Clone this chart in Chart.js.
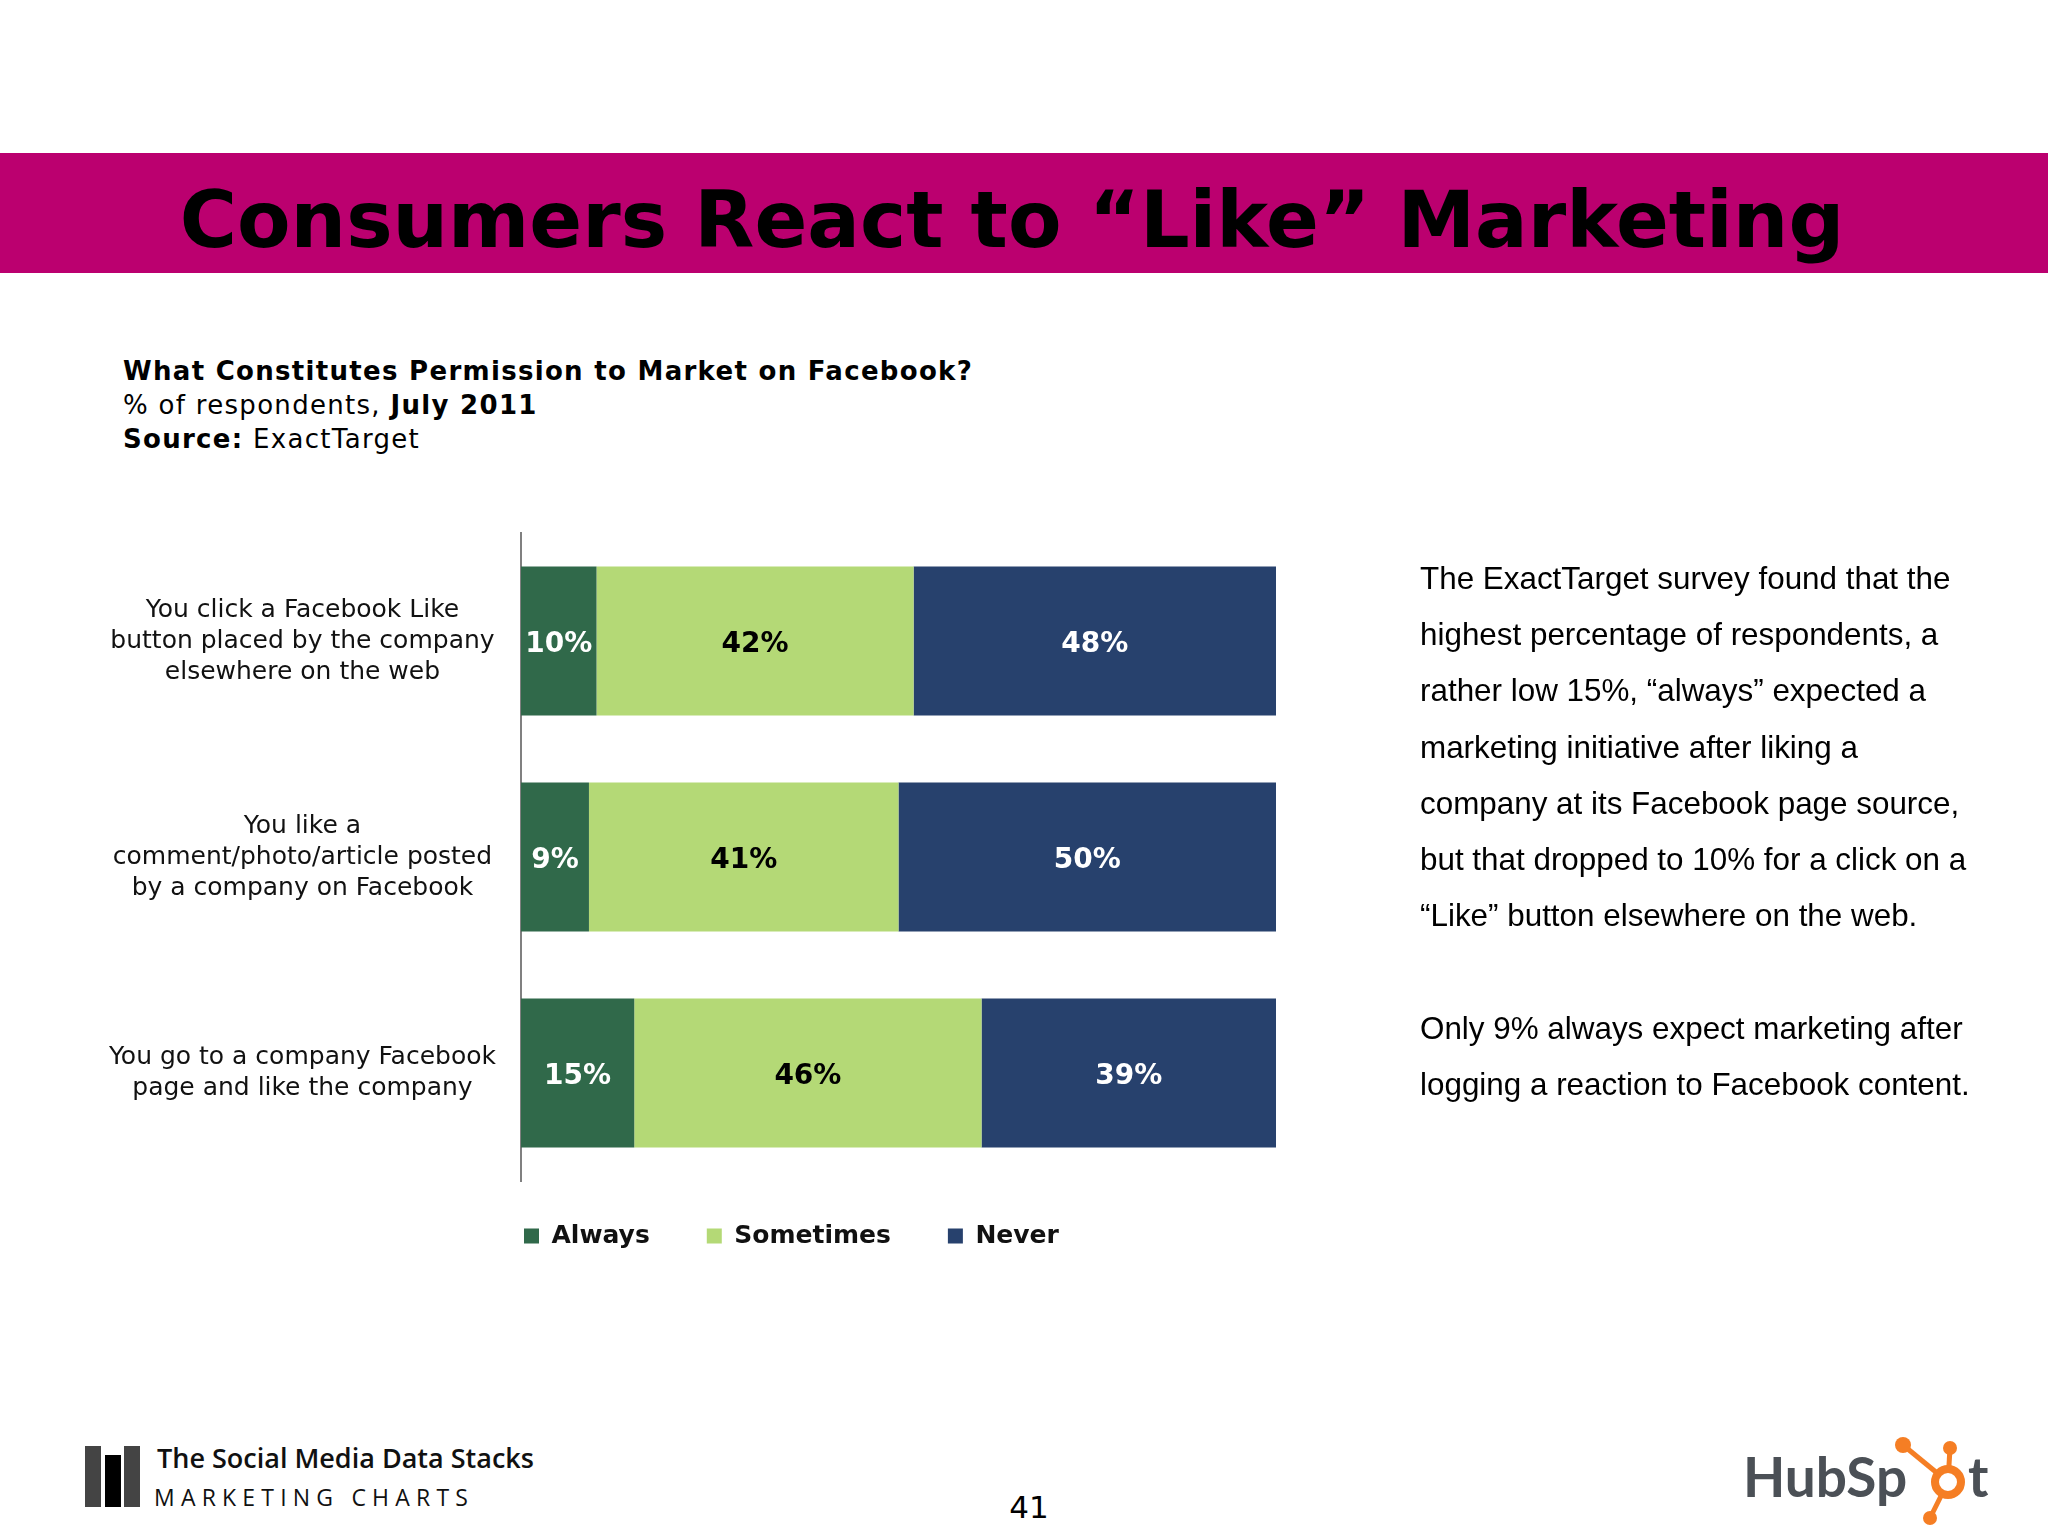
<!DOCTYPE html>
<html>
<head>
<meta charset="utf-8">
<script src="https://cdn.jsdelivr.net/npm/chart.js@4.4.0/dist/chart.umd.min.js"></script>
<style>
  html, body { margin: 0; padding: 0; background: #fff; }
  body { width: 2048px; height: 1536px; position: relative; overflow: hidden; }
  .abs { position: absolute; white-space: nowrap; }
  #band { left: 0; top: 153px; width: 2048px; height: 120px; background: #bb006f; }
  #title { left: 0; width: 2024px; top: 181px; text-align: center; font: bold 78px/78px "DejaVu Sans"; color: #000; }
  #sub { left: 123px; top: 354px; font: 26px/34px "DejaVu Sans"; letter-spacing: 1.3px; color: #000; }
  #note { left: 1420px; top: 551px; font: 31.4px/56.2px "Liberation Sans", Arial; color: #000; }
  #chartBox { left: 0; top: 500px; width: 1600px; height: 800px; }
  #stacks { left: 157px; top: 1444px; font: 600 27px/27px "Open Sans"; color: #111; }
  #mc { left: 154px; top: 1486px; font: 400 23px/23px "Open Sans"; letter-spacing: 6.2px; color: #111; }
  #page { left: 979px; width: 100px; top: 1492px; text-align: center; font: 31px/31px "DejaVu Sans"; color: #000; }
</style>
</head>
<body>
<div id="band" class="abs"></div>
<div id="title" class="abs">Consumers React to “Like” Marketing</div>
<div id="sub" class="abs"><b>What Constitutes Permission to Market on Facebook?</b><br>% of respondents, <b>July 2011</b><br><b>Source:</b> ExactTarget</div>

<div id="chartBox" class="abs"><canvas id="chart" width="1600" height="800"></canvas></div>

<div id="note" class="abs">The ExactTarget survey found that the<br>highest percentage of respondents, a<br>rather low 15%, “always” expected a<br>marketing initiative after liking a<br>company at its Facebook page source,<br>but that dropped to 10% for a click on a<br>“Like” button elsewhere on the web.<br><br>Only 9% always expect marketing after<br>logging a reaction to Facebook content.</div>

<svg class="abs" style="left:80px;top:1440px" width="70" height="75">
  <rect x="5" y="6" width="16" height="61" fill="#444"/>
  <rect x="25" y="15" width="16" height="52" fill="#000"/>
  <rect x="44" y="6" width="16" height="61" fill="#444"/>
</svg>
<div id="stacks" class="abs">The Social Media Data Stacks</div>
<div id="mc" class="abs">MARKETING CHARTS</div>
<div id="page" class="abs">41</div>

<svg class="abs" style="left:1730px;top:1425px" width="300" height="110">
  <text x="13" y="72" font-family="Lato" font-weight="700" font-size="55" fill="#4b5056">HubSp</text>
  <g stroke="#f57e24" stroke-width="5" fill="none">
    <line x1="218" y1="57" x2="173" y2="20"/>
    <line x1="218" y1="57" x2="220" y2="23"/>
    <line x1="218" y1="57" x2="200" y2="93"/>
  </g>
  <circle cx="218" cy="57" r="13" fill="#fff" stroke="#f57e24" stroke-width="8"/>
  <circle cx="173" cy="20" r="8" fill="#f57e24"/>
  <circle cx="220" cy="23" r="7" fill="#f57e24"/>
  <circle cx="200" cy="93" r="7" fill="#f57e24"/>
  <text x="238" y="72" font-family="Lato" font-weight="700" font-size="55" fill="#4b5056">t</text>
</svg>

<script>
  const categories = [
    ['You click a Facebook Like', 'button placed by the company', 'elsewhere on the web'],
    ['You like a', 'comment/photo/article posted', 'by a company on Facebook'],
    ['You go to a company Facebook', 'page and like the company']
  ];
  const seriesNames = ['Always', 'Sometimes', 'Never'];
  const always = [10, 9, 15];
  const sometimes = [42, 41, 46];
  const never = [48, 50, 39];

  const colors = ['#30694a', '#b4d976', '#27416d'];
  const labelColors = ['#fff', '#000', '#fff'];

  // value labels drawn in the middle of each segment
  const barLabels = {
    id: 'barLabels',
    afterDatasetsDraw(chart) {
      const ctx = chart.ctx;
      ctx.save();
      ctx.font = 'bold 28px "DejaVu Sans"';
      ctx.textAlign = 'center';
      ctx.textBaseline = 'middle';
      chart.data.datasets.forEach((ds, i) => {
        chart.getDatasetMeta(i).data.forEach((bar, j) => {
          ctx.fillStyle = labelColors[i];
          ctx.fillText(ds.data[j] + '%', (bar.x + bar.base) / 2, bar.y + 4);
        });
      });
      ctx.restore();
    }
  };

  // legend starts at the axis line instead of the canvas edge
  const legendAtAxis = {
    id: 'legendAtAxis',
    afterLayout(chart) {
      const lg = chart.legend, area = chart.chartArea;
      const pad = lg.options.labels.padding;
      const w = lg.right - lg.left;
      lg.left = area.left + 3 - pad;
      lg.right = lg.left + w;
      lg.top = area.bottom + 55 - pad - 12.5;
    }
  };

  new Chart(document.getElementById('chart'), {
    type: 'bar',
    data: {
      labels: categories,
      datasets: [
        { label: seriesNames[0], data: always, backgroundColor: colors[0], borderWidth: 0 },
        { label: seriesNames[1], data: sometimes, backgroundColor: colors[1], borderWidth: 0 },
        { label: seriesNames[2], data: never, backgroundColor: colors[2], borderWidth: 0 }
      ]
    },
    options: {
      indexAxis: 'y',
      responsive: false,
      animation: false,
      layout: { padding: { left: 0, top: 33, right: 324, bottom: 27 } },
      datasets: { bar: { categoryPercentage: 1, barPercentage: 0.69 } },
      plugins: {
        legend: {
          position: 'bottom',
          align: 'start',
          labels: {
            boxWidth: 15, boxHeight: 15, padding: 57,
            color: '#111',
            font: { family: 'DejaVu Sans', size: 25, weight: 'bold' }
          }
        },
        tooltip: { enabled: false }
      },
      scales: {
        x: { stacked: true, min: 0, max: 100, display: false },
        y: {
          stacked: true,
          grid: { display: false, drawTicks: false },
          border: { display: true, color: '#808080', width: 2 },
          ticks: {
            crossAlign: 'center',
            padding: 25,
            autoSkip: false,
            color: '#111',
            font: { family: 'DejaVu Sans', size: 25, lineHeight: 1.24 }
          },
          afterFit(scale) {
            scale.width = 521;
            scale.paddingTop = 0;
            scale.paddingBottom = 0;
          }
        }
      }
    },
    plugins: [barLabels, legendAtAxis]
  });
</script>
</body>
</html>
